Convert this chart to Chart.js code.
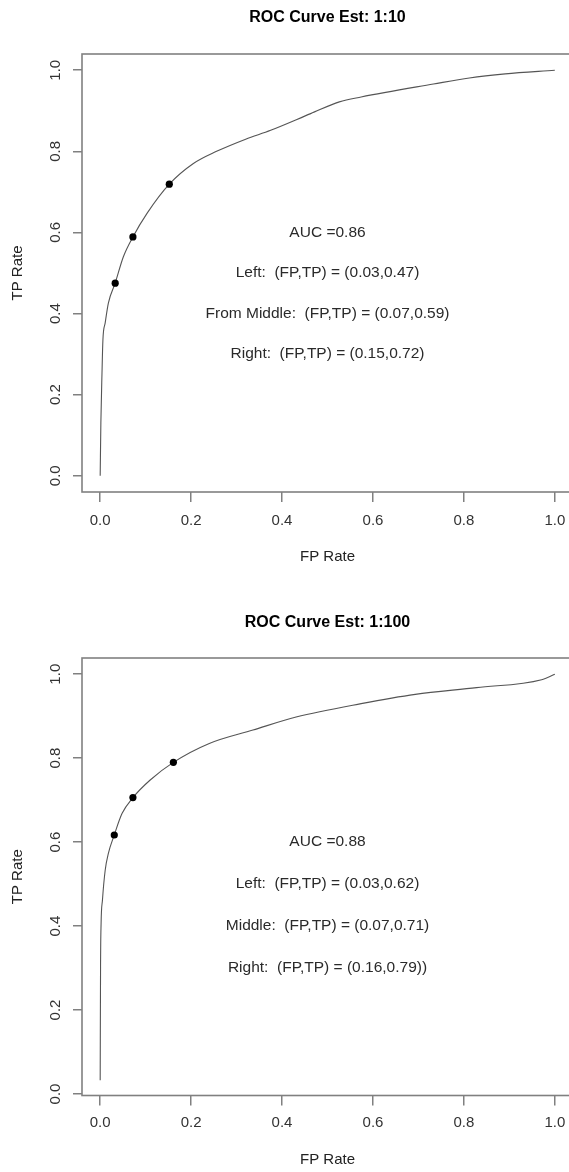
<!DOCTYPE html>
<html><head><meta charset="utf-8">
<script src="https://cdn.jsdelivr.net/npm/chart.js@4.4.0/dist/chart.umd.min.js"></script>
<style>
html,body{margin:0;padding:0;background:#fff;overflow:hidden;width:569px;height:1172px;}
.wrap{position:absolute;left:0;width:600px;height:586px;}
canvas{display:block;}
</style></head><body>
<div class="wrap" style="top:0"><canvas id="c1" width="600" height="586"></canvas></div>
<div class="wrap" style="top:586px"><canvas id="c2" width="600" height="586"></canvas></div>
<script>
const chartTitles = ['ROC Curve Est: 1:10', 'ROC Curve Est: 1:100'];
const xAxisTitle = 'FP Rate';
const yAxisTitle = 'TP Rate';
const xTicks = [0, 0.2, 0.4, 0.6, 0.8, 1.0];
const yTicks = [0, 0.2, 0.4, 0.6, 0.8, 1.0];

// Chart 1 ROC curve (1:10)
const fpRate1 = [0, 0.0015, 0.004, 0.006, 0.011, 0.018, 0.033, 0.051, 0.072, 0.103, 0.152, 0.205, 0.256, 0.32, 0.375, 0.463, 0.526, 0.574, 0.733, 0.812, 0.891, 1.0];
const tpRate1 = [0, 0.13, 0.254, 0.335, 0.377, 0.426, 0.475, 0.54, 0.589, 0.647, 0.719, 0.77, 0.8, 0.83, 0.852, 0.893, 0.922, 0.934, 0.966, 0.981, 0.991, 1.0];
const pointFp1 = [0.033, 0.072, 0.152];
const pointTp1 = [0.475, 0.589, 0.719];
const notes1 = ['AUC =0.86', 'Left:  (FP,TP) = (0.03,0.47)', 'From Middle:  (FP,TP) = (0.07,0.59)', 'Right:  (FP,TP) = (0.15,0.72)'];

// Chart 2 ROC curve (1:100)
const fpRate2 = [0, 0.0008, 0.002, 0.005, 0.011, 0.018, 0.031, 0.048, 0.072, 0.11, 0.161, 0.24, 0.336, 0.431, 0.574, 0.693, 0.828, 0.971, 1.0];
const tpRate2 = [0.033, 0.303, 0.406, 0.462, 0.533, 0.573, 0.617, 0.668, 0.706, 0.748, 0.79, 0.835, 0.867, 0.898, 0.93, 0.952, 0.968, 0.987, 1.0];
const pointFp2 = [0.031, 0.072, 0.161];
const pointTp2 = [0.617, 0.706, 0.79];
const notes2 = ['AUC =0.88', 'Left:  (FP,TP) = (0.03,0.62)', 'Middle:  (FP,TP) = (0.07,0.71)', 'Right:  (FP,TP) = (0.16,0.79))'];

const noteX = 0.5;
const noteY = [0.6, 0.5, 0.4, 0.3];

const FONT = '"Liberation Sans", Arial, Helvetica, sans-serif';
Chart.defaults.font.family = FONT;

const rPlugin = {
  id: 'rstyle',
  afterDraw(chart, args, opts) {
    const ctx = chart.ctx, a = chart.chartArea, xs = chart.scales.x, ys = chart.scales.y;
    ctx.save();
    ctx.strokeStyle = '#808080';
    ctx.lineWidth = 1.6;
    ctx.strokeRect(a.left, a.top, a.right - a.left, a.bottom - a.top);
    ctx.fillStyle = '#333';
    ctx.font = '15px ' + FONT;
    ctx.textAlign = 'center';
    ctx.textBaseline = 'middle';
    ys.ticks.forEach(t => {
      const py = ys.getPixelForValue(t.value);
      ctx.save();
      ctx.translate(a.left - 26, py);
      ctx.rotate(-Math.PI / 2);
      ctx.fillText(t.value.toFixed(1), 0, 0);
      ctx.restore();
    });
    ctx.fillStyle = '#2a2a2a';
    ctx.font = '15.5px ' + FONT;
    opts.lines.forEach((s, i) => {
      ctx.fillText(s, xs.getPixelForValue(noteX), ys.getPixelForValue(noteY[i]));
    });
    ctx.restore();
  }
};

function makeChart(id, fp, tp, pfp, ptp, title, lines, yMin, yMax, d) {
  return new Chart(document.getElementById(id), {
    type: 'scatter',
    data: {
      datasets: [
        { data: pfp.map((v, i) => ({ x: v, y: ptp[i] })), showLine: false,
          pointRadius: 3.6, pointBackgroundColor: '#000', pointBorderWidth: 0, pointBorderColor: '#000' },
        { data: fp.map((v, i) => ({ x: v, y: tp[i] })), showLine: true, borderColor: '#555',
          borderWidth: 1.1, pointRadius: 0, cubicInterpolationMode: 'monotone', fill: false }
      ]
    },
    options: {
      responsive: false, animation: false, events: [],
      layout: { padding: { left: 0, right: 27, top: 0, bottom: 0 } },
      plugins: { legend: { display: false }, tooltip: { enabled: false }, rstyle: { lines: lines } },
      scales: {
        x: {
          type: 'linear', position: 'bottom', min: -0.04, max: 1.04,
          afterBuildTicks: s => { s.ticks = xTicks.map(v => ({ value: v })); },
          afterFit: s => { s.height = d.xh; },
          grid: { drawOnChartArea: false, drawTicks: true, tickLength: 10, color: '#808080', lineWidth: 1.5 },
          border: { display: false },
          ticks: { padding: d.xpad, color: '#333', font: { size: 15 }, maxRotation: 0, autoSkip: false,
                   callback: v => Number(v).toFixed(1) },
          title: { display: true, text: xAxisTitle, color: '#222', font: { size: 15 }, padding: { top: 0, bottom: d.xtpb } }
        },
        xTop: {
          type: 'linear', position: 'top', min: -0.04, max: 1.04,
          afterFit: s => { s.height = d.th; },
          grid: { display: false }, border: { display: false }, ticks: { display: false },
          title: { display: true, text: title, color: '#000', font: { size: 16, weight: 'bold' }, padding: { top: d.tpt, bottom: 0 } }
        },
        y: {
          type: 'linear', position: 'left', min: yMin, max: yMax,
          afterBuildTicks: s => { s.ticks = yTicks.map(v => ({ value: v })); },
          afterFit: s => { s.width = 82; },
          grid: { drawOnChartArea: false, drawTicks: true, tickLength: 9, color: '#808080', lineWidth: 1.5 },
          border: { display: false },
          ticks: { color: 'rgba(0,0,0,0)', font: { size: 15 }, autoSkip: false },
          title: { display: true, text: yAxisTitle, color: '#222', font: { size: 15 }, padding: { top: 9, bottom: 0 } }
        }
      }
    },
    plugins: [rPlugin]
  });
}

makeChart('c1', fpRate1, tpRate1, pointFp1, pointTp1, chartTitles[0], notes1, -0.04, 1.04,
  { th: 54, tpt: 8.4, xh: 94, xpad: 10, xtpb: 20 });
makeChart('c2', fpRate2, tpRate2, pointFp2, pointTp2, chartTitles[1], notes2, -0.0036, 1.0386,
  { th: 72, tpt: 27.4, xh: 76.5, xpad: 8.5, xtpb: 3 });
</script>
</body></html>
